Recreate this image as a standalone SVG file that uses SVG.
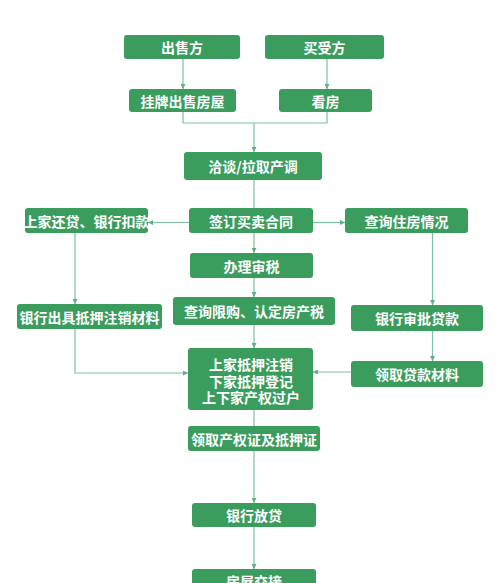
<svg xmlns="http://www.w3.org/2000/svg" width="500" height="583" viewBox="0 0 500 583">
<style>
.box{fill:#3a9d5e;}
.t{fill:#fff;font-family:"Noto Sans CJK SC","Noto Sans",sans-serif;font-weight:bold;font-size:14px;text-anchor:middle;dominant-baseline:central;}
.ln{stroke:#7cc2a0;stroke-width:1.2;fill:none;}
.ar{stroke:#7cc2a0;stroke-width:1.2;fill:none;marker-end:url(#ah);}
</style>
<defs>
<marker id="ah" viewBox="0 0 6 6" refX="6" refY="3" markerWidth="5" markerHeight="5" orient="auto" markerUnits="userSpaceOnUse">
<path d="M0,0 L6,3 L0,6 z" fill="#5fae88"/>
</marker>
</defs>
<rect width="500" height="583" fill="#fff"/>
<g id="connectors">
<path class="ar" d="M183,59 V89"/>
<path class="ar" d="M327,59 V89"/>
<path class="ln" d="M183,112 V123 H327 V112"/>
<path class="ar" d="M254,123 V152"/>
<path class="ln" d="M254,180 V208"/>
<path class="ar" d="M189,222.5 H148"/>
<path class="ar" d="M313,222.5 H345"/>
<path class="ar" d="M254,233 V253"/>
<path class="ar" d="M254,278 V297"/>
<path class="ar" d="M75,233 V304"/>
<path class="ar" d="M432.5,233 V305"/>
<path class="ar" d="M254,325 V348"/>
<path class="ar" d="M75,329 V373 H188"/>
<path class="ar" d="M432.5,331 V361"/>
<path class="ar" d="M351,372 H313"/>
<path class="ln" d="M254,410 V426"/>
<path class="ar" d="M254,451 V503"/>
<path class="ar" d="M254,527 V569"/>
</g>
<g id="n1"><rect class="box" x="124" y="35" width="116" height="24" rx="3"/><text class="t" x="182" y="47" font-size="15">出售方</text></g>
<g id="n2"><rect class="box" x="265" y="35" width="119" height="24" rx="3"/><text class="t" x="324.5" y="47" font-size="15">买受方</text></g>
<g id="n3"><rect class="box" x="129" y="89" width="107" height="23" rx="3"/><text class="t" x="182.5" y="100.5">挂牌出售房屋</text></g>
<g id="n4"><rect class="box" x="279" y="89" width="93" height="23" rx="3"/><text class="t" x="325.5" y="100.5">看房</text></g>
<g id="n5"><rect class="box" x="184" y="152" width="138" height="28" rx="3"/><text class="t" x="253" y="166" font-size="15">洽谈/拉取产调</text></g>
<g id="n6"><rect class="box" x="25" y="208" width="123" height="25" rx="3"/><text class="t" x="86.5" y="220.5" font-size="13.3">上家还贷、银行扣款</text></g>
<g id="n7"><rect class="box" x="189" y="208" width="124" height="25" rx="3"/><text class="t" x="251" y="220.5" font-size="13.5">签订买卖合同</text></g>
<g id="n8"><rect class="box" x="345" y="208" width="123" height="25" rx="3"/><text class="t" x="406.5" y="220.5" font-size="13.5">查询住房情况</text></g>
<g id="n9"><rect class="box" x="190" y="253" width="123" height="25" rx="3"/><text class="t" x="251.5" y="265.5" font-size="13.5">办理审税</text></g>
<g id="n10"><rect class="box" x="173" y="297" width="162" height="28" rx="3"/><text class="t" x="254" y="311" font-size="15.5">查询限购、认定房产税</text></g>
<g id="n11"><rect class="box" x="17" y="304" width="145" height="25" rx="3"/><text class="t" x="89.5" y="316.5">银行出具抵押注销材料</text></g>
<g id="n12"><rect class="box" x="351" y="305" width="132" height="26" rx="3"/><text class="t" x="417" y="318" font-size="14.4">银行审批贷款</text></g>
<g id="n13"><rect class="box" x="188" y="348" width="125" height="62" rx="3"/><text class="t" x="251" y="363.5">上家抵押注销</text><text class="t" x="251" y="380.5">下家抵押登记</text><text class="t" x="251" y="397">上下家产权过户</text></g>
<g id="n14"><rect class="box" x="351" y="361" width="132" height="26" rx="3"/><text class="t" x="417" y="374" font-size="14.4">领取贷款材料</text></g>
<g id="n15"><rect class="box" x="188" y="426" width="132" height="25" rx="3"/><text class="t" x="254" y="438.5" font-size="13.4">领取产权证及抵押证</text></g>
<g id="n16"><rect class="box" x="192" y="503" width="124" height="24" rx="3"/><text class="t" x="254" y="515" font-size="13.4">银行放贷</text></g>
<g id="n17"><rect class="box" x="192" y="569" width="124" height="24" rx="3"/><text class="t" x="254" y="581" font-size="13.4">房屋交接</text></g>
</svg>
